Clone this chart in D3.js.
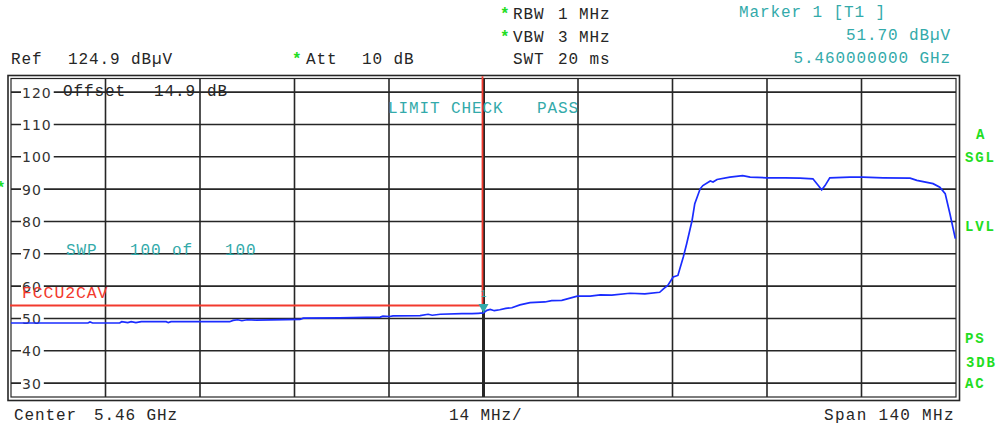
<!DOCTYPE html>
<html lang="en">
<head>
  <meta charset="UTF-8">
  <title>Spectrum</title>
  <script src="https://cdn.jsdelivr.net/npm/d3@7"></script>
  <style>
    body { margin: 0; background: #fff; }
    text { font-family: "Liberation Mono", monospace; }
  </style>
</head>
<body>
  <svg id="chart"></svg>
  <script>
    // trace: frequency (MHz) / level (dBuV)
    var freqMHz = [5390.0, 5401.4, 5401.7, 5402.1, 5406.1, 5406.4, 5407.3, 5407.8, 5408.5, 5409.3,
      5413.0, 5413.3, 5413.7, 5422.4, 5422.9, 5423.6, 5424.2, 5425.0, 5426.3, 5432.8,
      5433.3, 5438.7, 5444.7, 5445.1, 5446.1, 5446.6, 5450.6, 5451.8, 5452.4, 5453.6,
      5456.8, 5458.3, 5459.2, 5460.0, 5460.5, 5461.0, 5461.6, 5462.4, 5463.3, 5464.2,
      5465.4, 5466.9, 5469.1, 5470.1, 5471.6, 5473.9, 5475.8, 5477.3, 5479.0, 5481.7,
      5483.9, 5486.1, 5486.7, 5487.3, 5488.1, 5488.8, 5489.6, 5490.1, 5490.9, 5491.3,
      5492.1, 5492.5, 5493.6, 5494.0, 5494.6, 5496.5, 5498.4, 5499.5, 5502.0, 5504.7,
      5506.9, 5508.8, 5509.6, 5510.1, 5510.6, 5511.3, 5514.3, 5516.2, 5519.2, 5523.2,
      5524.2, 5526.6, 5527.6, 5528.4, 5529.1, 5529.9];
    var levelDb = [48.6, 48.6, 48.9, 48.6, 48.6, 49.0, 48.7, 49.0, 48.7, 49.0,
      49.0, 48.7, 49.0, 49.0, 49.4, 49.6, 49.3, 49.6, 49.5, 49.7,
      50.1, 50.2, 50.4, 50.7, 50.6, 50.8, 50.9, 51.3, 51.0, 51.3,
      51.5, 51.5, 51.6, 51.7, 52.5, 52.8, 52.4, 52.7, 53.1, 53.3,
      54.2, 54.9, 55.1, 55.5, 55.6, 56.9, 56.9, 57.3, 57.2, 57.8,
      57.6, 58.1, 59.2, 60.2, 62.8, 63.3, 69.0, 73.1, 80.3, 85.5,
      90.1, 91.1, 92.5, 92.2, 93.0, 93.7, 94.2, 93.7, 93.5, 93.5,
      93.4, 93.2, 91.1, 89.8, 91.1, 93.5, 93.7, 93.7, 93.5, 93.4,
      92.7, 91.7, 90.6, 88.6, 82.4, 74.7];

    var yTicks = [120, 110, 100, 90, 80, 70, 60, 50, 40, 30];
    var refLevel = 124.9;
    var centerMHz = 5460, spanMHz = 140;
    var limitName = "FCCU2CAV";
    var limitLevel = 54;
    var markerFreq = 5460, markerLevel = 51.70;

    var width = 998, height = 429;
    var teal = "#33aaaa", green = "#22dd22", red = "#f23a2e", ink = "#262626";

    var svg = d3.select("#chart").attr("width", width).attr("height", height);

    var x = d3.scaleLinear()
        .domain([centerMHz - spanMHz / 2, centerMHz + spanMHz / 2])
        .range([11, 956]);
    var y = d3.scaleLinear()
        .domain([refLevel - 100, refLevel])
        .range([399.6, 76.3]);

    // grid
    var grid = svg.append("g").attr("stroke", ink).attr("stroke-width", 1.6);
    grid.selectAll("line.h")
        .data(yTicks)
        .enter()
        .append("line")
        .attr("x1", 11).attr("x2", 956)
        .attr("y1", d => y(d)).attr("y2", d => y(d));
    grid.selectAll("line.v")
        .data(d3.range(1, 10))
        .enter()
        .append("line")
        .attr("x1", d => x(x.domain()[0] + d * spanMHz / 10))
        .attr("x2", d => x(x.domain()[0] + d * spanMHz / 10))
        .attr("y1", 78.5).attr("y2", 397)
        .attr("stroke-width", d => d == 5 ? 3 : 1.6);

    // frame (double)
    svg.append("rect").attr("x", 8).attr("y", 75.5).attr("width", 951.5).attr("height", 325)
        .attr("fill", "none").attr("stroke", ink).attr("stroke-width", 1.6);
    svg.append("rect").attr("x", 11).attr("y", 78.5).attr("width", 945).attr("height", 318.5)
        .attr("fill", "none").attr("stroke", ink).attr("stroke-width", 1.2);

    // y tick labels on white
    var lab = svg.append("g");
    yTicks.forEach(function(v) {
      var t = lab.append("text")
          .attr("x", 22).attr("y", y(v) + 5.5)
          .style("font-family", "'DejaVu Sans', sans-serif")
          .style("font-size", "14px")
          .style("letter-spacing", "1px")
          .attr("fill", "#333")
          .text(v);
      var bb = t.node().getBBox();
      lab.insert("rect", "text")
          .attr("x", bb.x - 1).attr("y", y(v) - 2)
          .attr("width", bb.width + 3).attr("height", 4)
          .attr("fill", "#fff");
    });

    function txt(s, px, py, color, opts) {
      opts = opts || {};
      return svg.append("text")
          .attr("x", px).attr("y", py)
          .attr("fill", color)
          .attr("text-anchor", opts.anchor || "start")
          .style("font-size", (opts.size || 16) + "px")
          .style("letter-spacing", (opts.ls != null ? opts.ls : 0.9) + "px")
          .style("font-weight", opts.bold ? "bold" : "normal")
          .text(s);
    }

    // header
    txt("Ref", 11, 64, ink);
    txt("124.9 dBµV", 68, 64, ink);
    txt("*", 292, 64, green, {bold: true});
    txt("Att", 306, 64, ink);
    txt("10 dB", 362, 64, ink);
    txt("*", 500, 19, green, {bold: true});
    txt("RBW", 513, 19, ink);
    txt("1 MHz", 558, 19, ink);
    txt("*", 500, 42, green, {bold: true});
    txt("VBW", 513, 42, ink);
    txt("3 MHz", 558, 42, ink);
    txt("SWT", 513, 64, ink);
    txt("20 ms", 558, 64, ink);
    txt("Marker 1 [T1 ]", 739, 17, teal);
    txt(markerLevel.toFixed(2) + " dBµV", 951, 40, teal, {anchor: "end"});
    txt((markerFreq / 1000).toFixed(9) + " GHz", 951, 63, teal, {anchor: "end"});

    // in-plot labels
    txt("Offset", 63, 96, ink);
    txt("14.9", 154, 96, ink);
    txt("dB", 207, 96, ink);
    txt("LIMIT CHECK", 388, 113, teal);
    txt("PASS", 537, 113, teal);
    txt("SWP", 66, 255, teal);
    txt("100 of", 130, 255, teal);
    txt("100", 225, 255, teal);

    // footer
    txt("Center", 14, 420, ink);
    txt("5.46 GHz", 94, 420, ink);
    txt("14 MHz/", 449, 420, ink);
    txt("Span 140 MHz", 824, 420, ink, {ls: 1.3});

    // right status column
    txt("A", 976, 139, green, {bold: true, size: 14, ls: 1.8});
    txt("SGL", 965, 162, green, {bold: true, size: 14, ls: 1.8});
    txt("LVL", 965, 231, green, {bold: true, size: 14, ls: 1.8});
    txt("PS", 965, 343, green, {bold: true, size: 14, ls: 1.8});
    txt("3DB", 966, 367, green, {bold: true, size: 14, ls: 1.8});
    txt("AC", 965, 388, green, {bold: true, size: 14, ls: 1.8});
    txt("*", -4, 193, green, {bold: true});

    // limit line: flat up to the band edge, then straight up
    var limitPts = [[x.domain()[0], limitLevel], [markerFreq, limitLevel], [markerFreq, refLevel]];
    svg.append("path")
        .attr("transform", "translate(-1,0)")
        .attr("d", d3.line().x(d => x(d[0])).y(d => y(d[1]))(limitPts))
        .attr("fill", "none")
        .attr("stroke", red)
        .attr("stroke-width", 1.8);
    txt(limitName, 22, 298, red, {size: 16.5});

    // trace
    var trace = freqMHz.map((f, i) => [f, levelDb[i]]);
    svg.append("path")
        .attr("d", d3.line().x(d => x(d[0])).y(d => y(d[1]))(trace))
        .attr("fill", "none")
        .attr("stroke", "#1a2cff")
        .attr("stroke-width", 1.7);

    // marker
    var mx = x(markerFreq), my = y(markerLevel);
    svg.append("path")
        .attr("d", "M" + (mx - 5) + "," + (my - 9) + "L" + (mx + 5) + "," + (my - 9) + "L" + mx + "," + my + "Z")
        .attr("fill", teal);
    txt("1", mx - 3, my - 16, teal, {size: 10, ls: 0});
  </script>
</body>
</html>
